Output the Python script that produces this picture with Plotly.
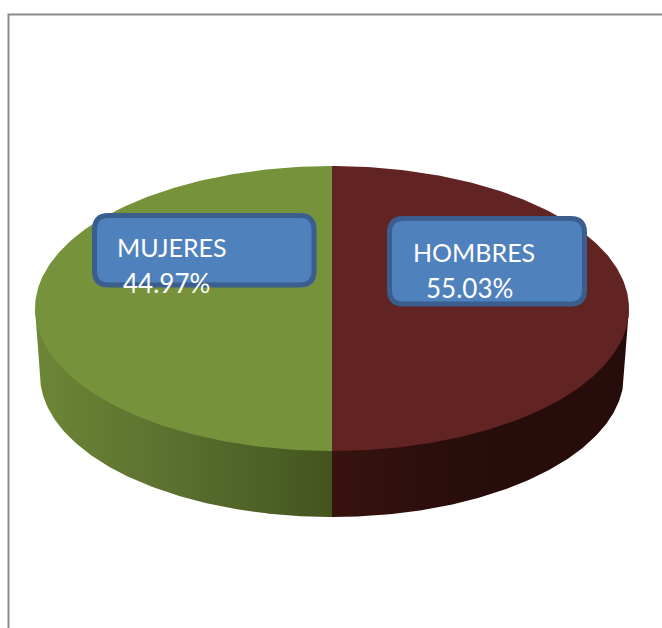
import numpy as np
import plotly.graph_objects as go

# Data
categories = ["HOMBRES", "MUJERES"]
label_percent = ["55.03%", "44.97%"]
drawn_shares = [50, 50]  # the slices are drawn as equal halves in the picture

# Colours
top_colors = ["#622423", "#76923a"]
side_scales = [
    [[0, "#38130f"], [0.3, "#2c0f0d"], [0.55, "#260d0b"], [1, "#260d0b"]],
    [[0, "#6c8636"], [0.45, "#5c7030"], [0.8, "#4c5f25"], [1, "#43541e"]],
]
box_fill = "#4f81bd"
box_edge = "#3a5f8f"
frame_color = "#8c8c8c"

# Pie geometry (pixel-like axis units)
CX, CY, RX, RY = 332, 308.5, 297, 142.5
CX_B, CY_B, RX_B, RY_B = 332, 375, 292, 142


def top_pt(theta, scale=1.0):
    return CX + scale * RX * np.sin(theta), CY - scale * RY * np.cos(theta)


def bottom_pt(theta):
    return CX_B + RX_B * np.sin(theta), CY_B - RY_B * np.cos(theta)


fig = go.Figure()
total = sum(drawn_shares)
start = 0.0
spans = []
for share in drawn_shares:
    end = start + 2 * np.pi * share / total
    spans.append((start, end))
    start = end

# sides (front half of the disc only); the upper edge runs hidden under the top face
for i, (a, b) in enumerate(spans):
    lo, hi = max(a, np.pi / 2), min(b, 3 * np.pi / 2)
    if hi <= lo:
        continue
    t = np.linspace(lo, hi, 160)
    xb, yb = bottom_pt(t)
    xi, yi = top_pt(t[::-1], 0.97)
    xe0, ye0 = top_pt(lo)
    xe1, ye1 = top_pt(hi)
    xs = np.concatenate([[xe0], xb, [xe1], xi, [xe0]])
    ys = np.concatenate([[ye0], yb, [ye1], yi, [ye0]])
    if i == 0:
        g = dict(type="horizontal", colorscale=side_scales[i], start=CX, stop=CX + RX)
    else:
        g = dict(type="horizontal", colorscale=side_scales[i], start=CX - RX, stop=CX)
    fig.add_trace(go.Scatter(x=xs, y=ys, mode="lines", fill="toself", line=dict(width=0),
                             fillgradient=g, hoverinfo="skip", showlegend=False))

# tops
for i, (a, b) in enumerate(spans):
    t = np.linspace(a, b, 240)
    xt, yt = top_pt(t)
    xs = np.concatenate([[CX], xt, [CX]])
    ys = np.concatenate([[CY], yt, [CY]])
    fig.add_trace(go.Scatter(x=xs, y=ys, mode="lines", fill="toself", fillcolor=top_colors[i],
                             line=dict(width=0), hoverinfo="skip", showlegend=False, name=categories[i]))


def rounded(x0, y0, x1, y1, r):
    return (f"M{x0+r},{y0} L{x1-r},{y0} Q{x1},{y0} {x1},{y0+r} L{x1},{y1-r} Q{x1},{y1} {x1-r},{y1} "
            f"L{x0+r},{y1} Q{x0},{y1} {x0},{y1-r} L{x0},{y0+r} Q{x0},{y0} {x0+r},{y0} Z")


boxes = [(389.5, 218.5, 584.5, 304), (94.5, 215.5, 314, 285)]
shapes = [
    dict(type="path", path="M8.5,628 L8.5,14.5 L662,14.5", line=dict(color=frame_color, width=2), layer="below")
]
for bx in boxes:
    shapes.append(dict(type="path", path=rounded(*bx, 14), fillcolor=box_fill,
                       line=dict(color=box_edge, width=5), layer="above"))

font = dict(family="Lato, Carlito, sans-serif", size=25, color="white")
font_num = dict(family="Lato, Carlito, sans-serif", size=26, color="white")
annotations = [
    dict(x=411, y=252, text=categories[0], xanchor="left", yanchor="middle", showarrow=False, font=font),
    dict(x=424, y=288, text=label_percent[0], xanchor="left", yanchor="middle", showarrow=False, font=font_num),
    dict(x=115, y=247, text=categories[1], xanchor="left", yanchor="middle", showarrow=False, font=font),
    dict(x=121, y=283, text=label_percent[1], xanchor="left", yanchor="middle", showarrow=False, font=font_num),
]

fig.update_layout(
    width=662, height=628, margin=dict(l=0, r=0, t=0, b=0, pad=0),
    paper_bgcolor="white", plot_bgcolor="white",
    xaxis=dict(range=[0, 662], visible=False, fixedrange=True),
    yaxis=dict(range=[628, 0], visible=False, fixedrange=True),
    shapes=shapes, annotations=annotations,
)
fig.write_html("out.html", config=dict(displayModeBar=False),
               post_script="document.body.style.margin='0';document.body.style.overflow='hidden';")
